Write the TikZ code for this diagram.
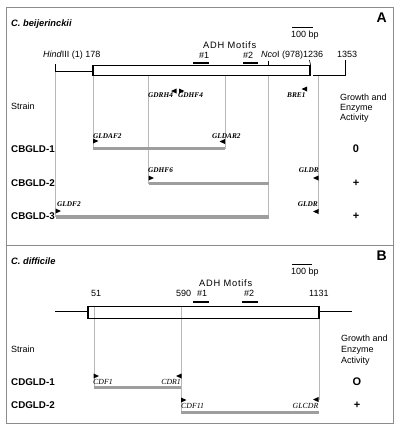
\documentclass[tikz,border=0pt]{standalone}
\usepackage{fontspec}
\setmainfont{Liberation Sans}
\newfontfamily\tms{Liberation Serif}
\definecolor{framegray}{gray}{0.55}
\definecolor{guidegray}{gray}{0.72}
\definecolor{bargray}{gray}{0.62}
\newcommand\priR[2]{\fill (#1,#2) ++(0,-2.5) -- ++(5.5,2.5) -- ++(-5.5,2.5) -- cycle;}
\newcommand\priL[2]{\fill (#1,#2) ++(0,-2.5) -- ++(-5.5,2.5) -- ++(5.5,2.5) -- cycle;}
\tikzset{
  frameline/.style={draw=framegray, line width=1},
  guide/.style={draw=guidegray, line width=0.6},
  seqbox/.style={draw=black, line width=1.5},
  gene/.style={draw=black, line width=1},
  pcrbar/.style={draw=bargray, line width=3.5},
  motif/.style={draw=black, line width=2},
  lbl/.style={inner sep=0, font=\fontsize{9}{10}\selectfont},
  spaced/.style={inner sep=0, font=\fontsize{9.3}{10}\selectfont\addfontfeature{LetterSpace=8}},
  species/.style={inner sep=0, font=\fontsize{9.3}{10}\selectfont\bfseries\itshape},
  strainlbl/.style={inner sep=0, font=\fontsize{9.8}{10}\selectfont\bfseries},
  panel/.style={inner sep=0, font=\fontsize{14}{14}\selectfont\bfseries},
  result/.style={inner sep=0, font=\fontsize{11}{11}\selectfont\bfseries},
  prA/.style={inner sep=0, font=\tms\fontsize{7.3}{8}\selectfont\bfseries\itshape},
  prB/.style={inner sep=0, font=\tms\fontsize{7.8}{8}\selectfont\itshape},
}
\begin{document}
\begin{tikzpicture}[x=1pt,y=-1pt]
\useasboundingbox (0,0) rectangle (401,431);
% frame
\draw[frameline] (6,7) rectangle (393.5,423);
\draw[frameline] (6,245.5) -- (393.5,245.5);

% ================= Panel A =================
\node[species, anchor=base west] (spA) at (11,26) {C. beijerinckii};
\node[panel, anchor=base east] (pA) at (387,23) {A};
\draw[line width=1] (292,27) -- (313,27);
\node[lbl, anchor=base west] (sbA) at (291,37) {100 bp};
\node[spaced, anchor=base west] (adhA) at (203,48) {ADH Motifs};
\node[lbl, anchor=base west] (m1A) at (199,58) {\#1};
\node[lbl, anchor=base west] (m2A) at (243,58) {\#2};
\draw[motif] (193,63) -- (209,63);
\draw[motif] (243,63) -- (258,63);
\node[lbl, anchor=base west] (hind) at (43,57) {\textit{Hind}III (1) 178};
\node[lbl, anchor=base west] (nco) at (261,57) {\textit{Nco}I (978)1236};
\node[lbl, anchor=base west] (e1353) at (337,57) {1353};

% guides A
\draw[guide] (55.5,71.5) -- (55.5,217);
\draw[guide] (93,75.5) -- (93,148.5);
\draw[guide] (148.5,75.5) -- (148.5,183.5);
\draw[guide] (225,75.5) -- (225,148.5);
\draw[guide] (268.5,75.5) -- (268.5,217);
\draw[guide] (318,75.5) -- (318,212);

% gene map A
\draw[gene] (55.5,64) -- (55.5,71.5) -- (93,71.5);
\draw[gene] (345,60) -- (345,75) -- (313,75);
\draw[seqbox, fill=white] (93,65.5) rectangle (310,75.5);
\draw[line width=0.8] (268.5,60.5) -- (268.5,66);
\draw[line width=0.6] (309.5,60) -- (310.5,65);

% primers A
\priL{176.5}{91}
\priR{179}{91}
\node[prA, anchor=base west] (gdrh4) at (148,97) {GDRH4};
\node[prA, anchor=base west] (gdhf4) at (178,97) {GDHF4};
\priL{307}{89}
\node[prA, anchor=base west] (bre1) at (287,97) {BRE1};

\node[lbl, anchor=base west] (strA) at (11,109) {Strain};
\node[lbl, anchor=base west] (gA1) at (340,100) {Growth and};
\node[lbl, anchor=base west] (gA2) at (340,110) {Enzyme};
\node[lbl, anchor=base west] (gA3) at (340,120) {Activity};

% CBGLD-1
\node[strainlbl, anchor=base west] (cb1) at (11,152) {CBGLD-1};
\priR{93}{141}
\node[prA, anchor=base west] (gldaf2) at (93,138) {GLDAF2};
\priL{225}{141.5}
\node[prA, anchor=base west] (gldar2) at (212,138) {GLDAR2};
\draw[pcrbar] (93,148.5) -- (225,148.5);
\node[result, anchor=base] (r1) at (356,152.5) {0};

% CBGLD-2
\node[strainlbl, anchor=base west] (cb2) at (11,186) {CBGLD-2};
\priR{148.5}{178}
\node[prA, anchor=base west] (gdhf6) at (148,172) {GDHF6};
\priL{318.5}{178}
\node[prA, anchor=base east] (gldr1) at (319,172) {GLDR};
\draw[pcrbar] (148.5,183.5) -- (268.5,183.5);
\node[result, anchor=base] (r2) at (356,186) {+};

% CBGLD-3
\node[strainlbl, anchor=base west] (cb3) at (11,219.5) {CBGLD-3};
\priR{55.5}{211}
\node[prA, anchor=base west] (gldf2) at (57,206) {GLDF2};
\priL{318.5}{211.5}
\node[prA, anchor=base east] (gldr2) at (318,206) {GLDR};
\draw[pcrbar] (55.5,217) -- (268.5,217);
\node[result, anchor=base] (r3) at (356,219.5) {+};

% ================= Panel B =================
\node[species, anchor=base west] (spB) at (11,264) {C. difficile};
\node[panel, anchor=base east] (pB) at (387,260) {B};
\draw[line width=1] (292,264.3) -- (312,264.3);
\node[lbl, anchor=base west] (sbB) at (291,274) {100 bp};
\node[spaced, anchor=base west] (adhB) at (199,286) {ADH Motifs};
\node[lbl, anchor=base west] (m1B) at (197,296) {\#1};
\node[lbl, anchor=base west] (m2B) at (244,296) {\#2};
\draw[motif] (193,302) -- (209,302);
\draw[motif] (242,302) -- (258,302);
\node[lbl, anchor=base west] (n51) at (91,296) {51};
\node[lbl, anchor=base west] (n590) at (176,296) {590};
\node[lbl, anchor=base west] (n1131) at (309,296) {1131};

% guides B
\draw[guide] (94,307) -- (94,387.5);
\draw[guide] (181,307) -- (181,412.7);
\draw[guide] (319,318.3) -- (319,399.5);

% gene map B
\draw[gene] (55,311) -- (88,311);
\draw[gene] (319,311.7) -- (352,311.7);
\draw[seqbox] (88,306.7) rectangle (319,318.3);

\node[lbl, anchor=base west] (strB) at (11,352) {Strain};
\node[lbl, anchor=base west] (gB1) at (341,341.5) {Growth and};
\node[lbl, anchor=base west] (gB2) at (341,352) {Enzyme};
\node[lbl, anchor=base west] (gB3) at (341,363) {Activity};

% CDGLD-1
\node[strainlbl, anchor=base west] (cd1) at (11,385) {CDGLD-1};
\priR{93.5}{376}
\node[prB, anchor=base west] (cdf1) at (93,384) {CDF1};
\priL{181.5}{376}
\node[prB, anchor=base east] (cdr1) at (181,384) {CDR1};
\draw[pcrbar] (93.5,387.5) -- (181,387.5);
\node[result, anchor=base] (r4) at (357,385) {O};

% CDGLD-2
\node[strainlbl, anchor=base west] (cd2) at (11,408) {CDGLD-2};
\priR{181}{400}
\node[prB, anchor=base west] (cdf11) at (181,408) {CDF11};
\priL{318.5}{399.5}
\node[prB, anchor=base east] (glcdr) at (318.5,408) {GLCDR};
\draw[pcrbar] (181,412.7) -- (318.5,412.7);
\node[result, anchor=base] (r5) at (357,408) {+};
\end{tikzpicture}
\end{document}
